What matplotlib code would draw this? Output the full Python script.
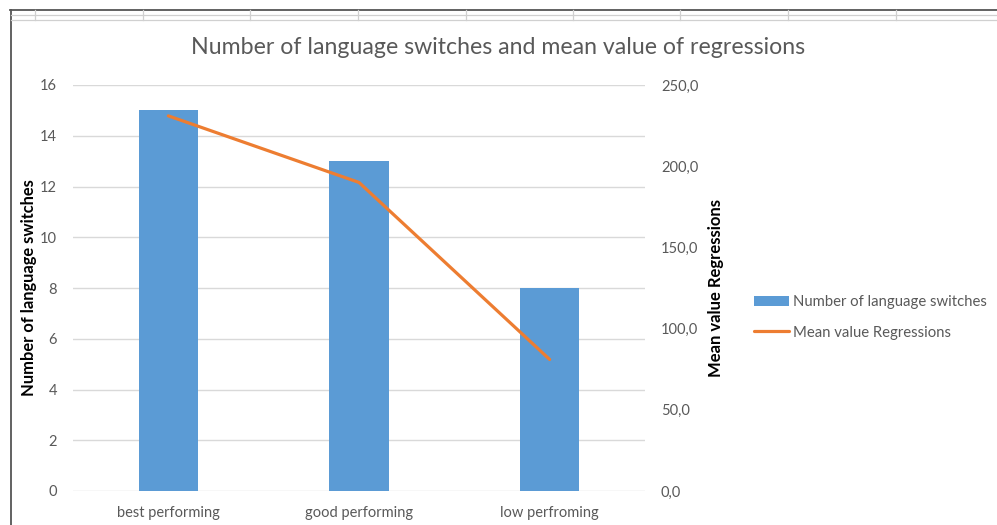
import matplotlib
matplotlib.use("Agg")
import matplotlib.pyplot as plt
from matplotlib.lines import Line2D
from matplotlib.ticker import FuncFormatter

categories = ["best performing", "good performing", "low perfroming"]
switches = [15, 13, 8]
regressions = [231.0, 190.0, 81.0]
left_ticks = [0, 2, 4, 6, 8, 10, 12, 14, 16]
right_ticks = [0, 50, 100, 150, 200, 250]

FONT = ["Lato", "DejaVu Sans"]
plt.rcParams["font.family"] = FONT

W, H = 997, 525
fig = plt.figure(figsize=(W / 100, H / 100), dpi=100)
fig.patch.set_facecolor("white")

# spreadsheet frame decorations
def fx(x):
    return x / W
def fy(y):
    return 1 - y / H

fig.add_artist(Line2D([fx(10), fx(997)], [fy(9.5), fy(9.5)], color="#555555", lw=1.3))
fig.add_artist(Line2D([fx(10.5), fx(10.5)], [fy(9.5), fy(525)], color="#555555", lw=1.3))
for yy in (15, 19.5):
    fig.add_artist(Line2D([fx(11), fx(997)], [fy(yy), fy(yy)], color="#d0d0d0", lw=0.9))
for xx in (35, 142.7, 250, 357.7, 465.5, 572.7, 680.3, 788.3, 896):
    fig.add_artist(Line2D([fx(xx), fx(xx)], [fy(10), fy(19.5)], color="#d0d0d0", lw=0.9))

ax = fig.add_axes([73 / W, 1 - 491 / H, 572 / W, 406 / H])
ax2 = ax.twinx()

x = list(range(len(categories)))
bars = ax.bar(x, switches, width=0.31, color="#5B9BD5", zorder=2,
              label="Number of language switches")
line, = ax2.plot(x, regressions, color="#ED7D31", lw=2.3, solid_capstyle="round",
                 label="Mean value Regressions", zorder=3)

ax.set_xlim(-0.5, 2.5)
ax.set_ylim(0, 16)
ax.set_yticks(left_ticks)
ax2.set_ylim(0, 250)
ax2.set_yticks(right_ticks)
ax2.yaxis.set_major_formatter(FuncFormatter(lambda v, p: f"{v:.1f}".replace(".", ",")))

ax.set_xticks(x)
ax.set_xticklabels(categories)
ax.yaxis.grid(True, color="#d9d9d9", lw=1.0, zorder=0)
ax.set_axisbelow(True)

for a in (ax, ax2):
    for s in a.spines.values():
        s.set_visible(False)
    a.tick_params(length=0, labelsize=10.5, labelcolor="#595959")
ax.tick_params(axis="y", pad=11.5)
ax2.tick_params(axis="y", pad=11.5)
ax.tick_params(axis="x", pad=10.5)

ax.set_ylabel("Number of language switches", fontsize=11.9, fontweight="bold", color="black")
ax.yaxis.set_label_coords(-0.0625, 0.5)
ax2.set_ylabel("Mean value Regressions", fontsize=12, fontweight="bold", color="black")
ax2.yaxis.set_label_coords(1.110, 0.5)

fig.text(0.5, fy(47), "Number of language switches and mean value of regressions",
         ha="center", va="center", fontsize=16.7, color="#595959")

fig.legend(handles=[bars, line], loc="center left",
           bbox_to_anchor=(fx(754), fy(317.5)), bbox_transform=fig.transFigure,
           frameon=False, fontsize=10.7, labelspacing=1.08, handlelength=2.35,
           handletextpad=0.27, borderpad=0, borderaxespad=0, labelcolor="#595959")

fig.savefig("out.png", dpi=100, facecolor="white")
